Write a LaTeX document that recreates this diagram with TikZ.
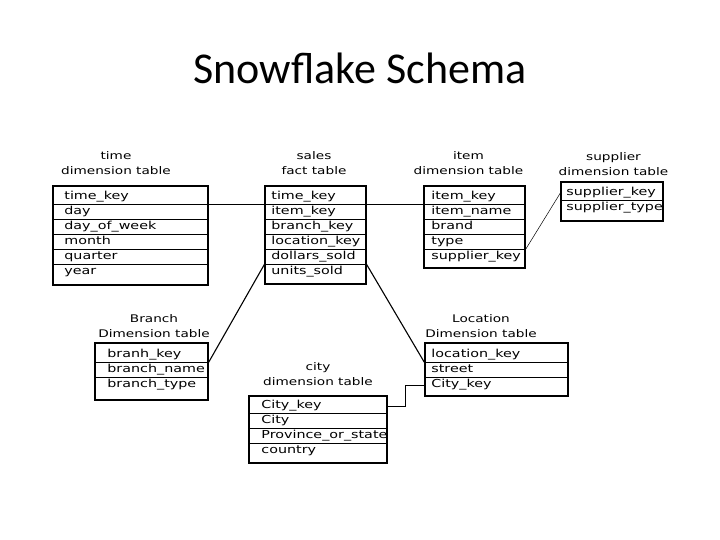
\documentclass[tikz,border=0pt]{standalone}
\usepackage{fontspec}
\usepackage{tikz}
\usetikzlibrary{positioning}
\newfontfamily\titlefont{Carlito}
\newfontfamily\tabfont[FakeStretch=1.3]{DejaVu Sans}

\begin{document}
\begin{tikzpicture}[x=1pt, y=-1pt,
  dimtable/.style={draw, line width=1.2pt, inner sep=0pt},
  field/.style={font=\tabfont\fontsize{11}{13}\selectfont, text width=160pt, text height=8.5pt, text depth=2.5pt, minimum height=15pt, inner xsep=0pt, inner ysep=0pt, outer sep=0pt, align=left},
  tabtitle/.style={font=\tabfont\fontsize{10.5}{15}\selectfont, align=center, inner sep=0pt},
  rowline/.style={line width=0.6pt},
  link/.style={line width=1.1pt},
  thinlink/.style={line width=0.5pt},
]
\useasboundingbox (0,0) rectangle (720,540);

\node[font=\titlefont\fontsize{44}{48}\selectfont] (title) at (360,68) {Snowflake Schema};

% time dimension table
\node[tabtitle] (t_title) at (116,163.5) {time\\dimension table};
\node[dimtable, minimum width=155pt, minimum height=99pt] (time) at (130.5,235.5) {};
\node[field, below right=4pt and 12pt of time.north west] (t_key) {time\_key};
\node[field, below=0pt of t_key] (t_day) {day};
\node[field, below=0pt of t_day] (t_dow) {day\_of\_week};
\node[field, below=0pt of t_dow] (t_month) {month};
\node[field, below=0pt of t_month] (t_quarter) {quarter};
\node[field, below=0pt of t_quarter] (t_year) {year};
\draw[rowline] (t_key.south -| time.west) -- (t_key.south -| time.east);
\draw[rowline] (t_day.south -| time.west) -- (t_day.south -| time.east);
\draw[rowline] (t_dow.south -| time.west) -- (t_dow.south -| time.east);
\draw[rowline] (t_month.south -| time.west) -- (t_month.south -| time.east);
\draw[rowline] (t_quarter.south -| time.west) -- (t_quarter.south -| time.east);

% sales fact table
\node[tabtitle] (s_title) at (314,163.5) {sales\\fact table};
\node[dimtable, minimum width=101pt, minimum height=98pt] (sales) at (315.5,235) {};
\node[field, below right=4pt and 7pt of sales.north west] (s_key) {time\_key};
\node[field, below=0pt of s_key] (s_item) {item\_key};
\node[field, below=0pt of s_item] (s_branch) {branch\_key};
\node[field, below=0pt of s_branch] (s_location) {location\_key};
\node[field, below=0pt of s_location] (s_dollars) {dollars\_sold};
\node[field, below=0pt of s_dollars] (s_units) {units\_sold};
\draw[rowline] (s_key.south -| sales.west) -- (s_key.south -| sales.east);
\draw[rowline] (s_item.south -| sales.west) -- (s_item.south -| sales.east);
\draw[rowline] (s_branch.south -| sales.west) -- (s_branch.south -| sales.east);
\draw[rowline] (s_location.south -| sales.west) -- (s_location.south -| sales.east);
\draw[rowline] (s_dollars.south -| sales.west) -- (s_dollars.south -| sales.east);

% item dimension table
\node[tabtitle] (i_title) at (468.5,163.5) {item\\dimension table};
\node[dimtable, minimum width=101pt, minimum height=82pt] (item) at (474.5,227) {};
\node[field, below right=4pt and 8pt of item.north west] (i_key) {item\_key};
\node[field, below=0pt of i_key] (i_name) {item\_name};
\node[field, below=0pt of i_name] (i_brand) {brand};
\node[field, below=0pt of i_brand] (i_type) {type};
\node[field, below=0pt of i_type] (i_supkey) {supplier\_key};
\draw[rowline] (i_key.south -| item.west) -- (i_key.south -| item.east);
\draw[rowline] (i_name.south -| item.west) -- (i_name.south -| item.east);
\draw[rowline] (i_brand.south -| item.west) -- (i_brand.south -| item.east);
\draw[rowline] (i_type.south -| item.west) -- (i_type.south -| item.east);

% supplier dimension table
\node[tabtitle] (p_title) at (613.5,164) {supplier\\dimension table};
\node[dimtable, minimum width=102pt, minimum height=39pt] (supplier) at (612,201.5) {};
\node[field, below right=4pt and 6pt of supplier.north west] (p_key) {supplier\_key};
\node[field, below=0pt of p_key] (p_type) {supplier\_type};
\draw[rowline] (p_key.south -| supplier.west) -- (p_key.south -| supplier.east);

% branch dimension table
\node[tabtitle] (b_title) at (154,326) {Branch\\Dimension table};
\node[dimtable, minimum width=113pt, minimum height=57pt] (branch) at (151.5,371.5) {};
\node[field, below right=5pt and 13pt of branch.north west] (b_key) {branh\_key};
\node[field, below=0pt of b_key] (b_name) {branch\_name};
\node[field, below=0pt of b_name] (b_type) {branch\_type};
\draw[rowline] (b_key.south -| branch.west) -- (b_key.south -| branch.east);
\draw[rowline] (b_name.south -| branch.west) -- (b_name.south -| branch.east);

% city dimension table
\node[tabtitle] (c_title) at (318,374) {city\\dimension table};
\node[dimtable, minimum width=138pt, minimum height=67pt] (city) at (318,429.5) {};
\node[field, below right=3pt and 13pt of city.north west] (c_key) {City\_key};
\node[field, below=0pt of c_key] (c_city) {City};
\node[field, below=0pt of c_city] (c_province) {Province\_or\_state};
\node[field, below=0pt of c_province] (c_country) {country};
\draw[rowline] (c_key.south -| city.west) -- (c_key.south -| city.east);
\draw[rowline] (c_city.south -| city.west) -- (c_city.south -| city.east);
\draw[rowline] (c_province.south -| city.west) -- (c_province.south -| city.east);

% location dimension table
\node[tabtitle] (l_title) at (481,326) {Location\\Dimension table};
\node[dimtable, minimum width=143pt, minimum height=53pt] (location) at (496.5,369.5) {};
\node[field, below right=5pt and 7pt of location.north west] (l_key) {location\_key};
\node[field, below=0pt of l_key] (l_street) {street};
\node[field, below=0pt of l_street] (l_city) {City\_key};
\draw[rowline] (l_key.south -| location.west) -- (l_key.south -| location.east);
\draw[rowline] (l_street.south -| location.west) -- (l_street.south -| location.east);

% links
\draw[link] (t_key.south -| time.east) -- (s_key.south -| sales.west);
\draw[link] (s_key.south -| sales.east) -- (i_key.south -| item.west);
\draw[thinlink] (i_type.south -| item.east) -- (p_key -| supplier.west);
\draw[link] (s_dollars.south -| sales.west) -- (b_key.south -| branch.east);
\draw[link] (s_dollars.south -| sales.east) -- (l_key.south -| location.west);
\draw[thinlink] (c_key -| city.east) -- ++(18,0) |- (l_city -| location.west);

\end{tikzpicture}
\end{document}
